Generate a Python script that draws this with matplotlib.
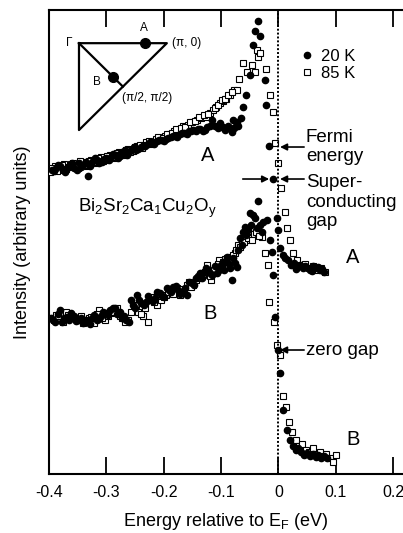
import numpy as np
import matplotlib
matplotlib.use('Agg')
import matplotlib.pyplot as plt

plt.rcParams['font.family'] = ['Liberation Sans', 'DejaVu Sans']
plt.rcParams['mathtext.fontset'] = 'custom'
plt.rcParams['mathtext.rm'] = 'Liberation Sans'
plt.rcParams['mathtext.default'] = 'regular'
plt.rcParams['axes.unicode_minus'] = False

# point A (pi,0), 20 K
a20_x = [-0.395, -0.388, -0.380, -0.372, -0.364, -0.356, -0.348, -0.340, -0.332, -0.324,
         -0.316, -0.308, -0.300, -0.292, -0.284, -0.276, -0.268, -0.260, -0.252, -0.244,
         -0.236, -0.228, -0.220, -0.212, -0.204, -0.196, -0.188, -0.180, -0.172, -0.164,
         -0.156, -0.148, -0.140, -0.132, -0.124, -0.116, -0.110, -0.102, -0.096, -0.090,
         -0.084, -0.079, -0.074, -0.070, -0.065, -0.062, -0.056, -0.050, -0.044, -0.041,
         -0.035, -0.032, -0.023, -0.021, -0.016, -0.009, -0.002, 0.000, 0.003, 0.008,
         0.012, 0.017, 0.022, 0.027, 0.033, 0.038, 0.043, 0.049, 0.055, 0.061,
         0.067, 0.073, 0.080]
a20_y = [304, 306, 308, 302, 309, 306, 311, 309, 298, 313,
         314, 312, 316, 317, 319, 318, 324, 322, 327, 325,
         328, 330, 331, 333, 334, 335, 337, 338, 340, 341,
         343, 344, 345, 343, 347, 354, 348, 351, 347, 346,
         346, 354, 348, 348, 356, 367, 379, 399, 429, 443,
         453, 438, 394, 369, 328, 295, 256, 244, 226, 219,
         216, 214, 209, 211, 207, 209, 206, 207, 204, 208,
         206, 204, 202]
a20_x_more = [-0.391, -0.384, -0.376, -0.368, -0.360, -0.352, -0.344, -0.336, -0.328, -0.320,
              -0.312, -0.304, -0.296, -0.288, -0.280, -0.272, -0.264, -0.256, -0.248, -0.240,
              -0.232, -0.224, -0.216, -0.208, -0.200, -0.192, -0.184, -0.176, -0.168, -0.160,
              -0.152, -0.144, -0.136, -0.128, -0.120, -0.106, -0.099, -0.093, -0.087, -0.081,
              -0.077, -0.072, 0.030, 0.046, 0.058, 0.070, 0.077]
a20_y_more = [303, 309, 304, 306, 311, 304, 307, 312, 308, 316,
              311, 315, 314, 320, 316, 322, 319, 325, 324, 327,
              328, 332, 330, 334, 333, 336, 338, 337, 341, 340,
              343, 343, 345, 344, 348, 346, 347, 344, 348, 342,
              346, 352, 205, 208, 203, 207, 205]

# point A, 85 K
a85_x = [-0.398, -0.390, -0.382, -0.374, -0.366, -0.358, -0.350, -0.342, -0.334, -0.326,
         -0.318, -0.310, -0.302, -0.294, -0.286, -0.278, -0.270, -0.262, -0.254, -0.246,
         -0.238, -0.230, -0.222, -0.214, -0.206, -0.198, -0.190, -0.182, -0.174, -0.166,
         -0.158, -0.150, -0.142, -0.134, -0.126, -0.119, -0.114, -0.108, -0.102, -0.096,
         -0.091, -0.084, -0.077, -0.072, -0.069, -0.062, -0.055, -0.046, -0.041, -0.037,
         -0.035, -0.032, -0.022, -0.015, -0.010, -0.006, -0.001, 0.005, 0.012, 0.015,
         0.020, 0.026, 0.033, 0.040, 0.047, 0.054, 0.061, 0.068, 0.075, 0.082]
a85_y = [302, 308, 304, 310, 307, 311, 306, 312, 308, 314,
         311, 317, 314, 319, 316, 322, 319, 325, 323, 328,
         326, 332, 330, 335, 334, 338, 340, 343, 344, 348,
         349, 352, 354, 356, 357, 361, 364, 367, 371, 373,
         375, 379, 384, 384, 395, 411, 402, 409, 402, 424,
         417, 421, 405, 379, 362, 331, 311, 286, 262, 246,
         234, 221, 214, 209, 210, 206, 208, 204, 206, 202]
a85_x_more = [-0.394, -0.386, -0.378, -0.370, -0.362, -0.354, -0.346, -0.338, -0.330, -0.322,
              -0.314, -0.306, -0.298, -0.290, -0.282, -0.274, -0.266, -0.258, -0.250, -0.242,
              -0.234, -0.226, -0.218, -0.210, -0.202, -0.194, -0.186, -0.178, -0.170, -0.162,
              -0.154, -0.146, -0.138, -0.130, -0.122, -0.111, -0.105, -0.099, -0.093, -0.087,
              -0.081]
a85_y_more = [306, 303, 309, 305, 310, 308, 313, 309, 313, 312,
              316, 313, 318, 317, 321, 320, 324, 322, 327, 329,
              329, 333, 332, 337, 336, 340, 341, 345, 346, 347,
              352, 353, 357, 359, 360, 366, 369, 374, 375, 379,
              382]

# point B (pi/2,pi/2), 20 K
b20_x = [-0.397, -0.389, -0.381, -0.373, -0.365, -0.357, -0.349, -0.341, -0.333, -0.325,
         -0.317, -0.309, -0.301, -0.293, -0.285, -0.277, -0.269, -0.261, -0.253, -0.247,
         -0.239, -0.231, -0.223, -0.215, -0.207, -0.199, -0.191, -0.183, -0.175, -0.167,
         -0.159, -0.151, -0.143, -0.137, -0.129, -0.123, -0.115, -0.107, -0.100, -0.094,
         -0.090, -0.085, -0.081, -0.076, -0.072, -0.067, -0.062, -0.058, -0.053, -0.049,
         -0.044, -0.040, -0.035, -0.032, -0.026, -0.020, -0.014, -0.011, -0.009, -0.006,
         -0.001, 0.003, 0.008, 0.015, 0.020, 0.025, 0.030, 0.035, 0.040, 0.045,
         0.050, 0.055, 0.060, 0.065, 0.070, 0.075, 0.080, 0.085]
b20_y = [156, 152, 164, 156, 154, 158, 154, 151, 152, 156,
         154, 158, 161, 164, 166, 162, 158, 152, 169, 179,
         171, 172, 174, 176, 181, 177, 184, 187, 184, 182,
         179, 191, 196, 201, 202, 204, 199, 201, 209, 204,
         217, 206, 194, 211, 207, 236, 242, 247, 244, 261,
         259, 256, 273, 249, 252, 254, 234, 222, 199, 157,
         124, 101, 64, 44, 34, 28, 24, 26, 22, 19,
         21, 18, 20, 17, 19, 16, 18, 16]
b20_x_more = [-0.393, -0.385, -0.377, -0.369, -0.361, -0.353, -0.345, -0.337, -0.329, -0.321,
              -0.313, -0.305, -0.297, -0.289, -0.281, -0.273, -0.265, -0.257, -0.250, -0.243,
              -0.235, -0.227, -0.219, -0.211, -0.203, -0.195, -0.187, -0.179, -0.171, -0.163,
              -0.155, -0.147, -0.140, -0.133, -0.126, -0.119, -0.111, -0.104, -0.097, -0.088,
              -0.079, -0.070, -0.064, -0.056, -0.047, -0.038, -0.029]
b20_y_more = [154, 160, 152, 157, 161, 153, 156, 154, 150, 159,
              155, 162, 159, 166, 160, 156, 154, 174, 166, 174,
              169, 178, 173, 182, 178, 186, 182, 188, 180, 186,
              192, 189, 198, 196, 206, 201, 208, 204, 212, 211,
              216, 224, 229, 239, 249, 246, 242]

# point B, 85 K
b85_x = [-0.396, -0.388, -0.380, -0.370, -0.362, -0.350, -0.340, -0.330, -0.322, -0.312,
         -0.302, -0.292, -0.282, -0.272, -0.262, -0.252, -0.244, -0.236, -0.228, -0.220,
         -0.212, -0.204, -0.196, -0.188, -0.180, -0.172, -0.164, -0.156, -0.148, -0.140,
         -0.132, -0.124, -0.117, -0.110, -0.103, -0.096, -0.090, -0.082, -0.076, -0.070,
         -0.064, -0.057, -0.050, -0.043, -0.036, -0.029, -0.023, -0.018, -0.016, -0.008,
         -0.002, 0.003, 0.008, 0.013, 0.018, 0.024, 0.030, 0.036, 0.042, 0.048,
         0.054, 0.060, 0.066, 0.072, 0.078, 0.084, 0.090, 0.095, 0.100]
b85_y = [156, 159, 154, 162, 156, 154, 151, 156, 151, 164,
         154, 161, 166, 156, 154, 167, 162, 158, 152, 177,
         169, 174, 179, 184, 186, 179, 184, 192, 189, 196,
         199, 209, 194, 206, 214, 212, 216, 217, 221, 229,
         232, 234, 237, 240, 241, 237, 221, 209, 172, 152,
         129, 119, 78, 67, 52, 42, 34, 28, 30, 24,
         22, 26, 20, 22, 18, 20, 16, 12, 19]
b85_x_more = [-0.392, -0.384, -0.375, -0.366, -0.356, -0.345, -0.335, -0.326, -0.317, -0.307,
              -0.297, -0.287, -0.277, -0.267, -0.257, -0.248, -0.240, -0.232, -0.224, -0.216,
              -0.208, -0.200, -0.192, -0.184, -0.176, -0.168, -0.160, -0.152, -0.144, -0.136,
              -0.128, -0.120, -0.113, -0.106, -0.099, -0.093, -0.086, -0.079, -0.073, -0.067,
              -0.060, -0.053, -0.046, -0.039, -0.033]
b85_y_more = [154, 158, 152, 159, 156, 158, 154, 157, 160, 156,
              158, 162, 158, 152, 162, 169, 160, 166, 174, 172,
              178, 177, 182, 180, 186, 185, 189, 187, 194, 196,
              202, 198, 204, 210, 208, 215, 212, 219, 224, 227,
              232, 236, 234, 242, 238]

xticks = [-0.4, -0.3, -0.2, -0.1, 0.0, 0.1, 0.2]
xtick_labels = ['-0.4', '-0.3', '-0.2', '-0.1', '0', '0.1', '0.2']

# Brillouin zone sketch (units of pi, ky pointing down)
bz_x = [0, 1, 0, 0]
bz_y = [0, 0, 1, 0]
diag_x = [0, 0.5]
diag_y = [0, 0.5]
kpt_x = [0.75, 0.39]
kpt_y = [0.0, 0.39]

fig = plt.figure(figsize=(4.03, 5.33), dpi=100)
ax = fig.add_axes([0.1216, 0.1107, 0.8784, 0.8705])

sq = dict(ms=4.3, mfc='white', mec='black', mew=0.8, ls='none', zorder=3)
ax.plot(np.r_[b85_x, b85_x_more], np.r_[b85_y, b85_y_more], 's', label='85 K', **sq)
ax.plot(np.r_[a85_x, a85_x_more], np.r_[a85_y, a85_y_more], 's', **sq)
ax.plot(np.r_[a20_x, a20_x_more], np.r_[a20_y, a20_y_more], 'o', ms=4.5, color='black',
        label='20 K', zorder=4)
ax.plot(np.r_[b20_x, b20_x_more], np.r_[b20_y, b20_y_more], 'o', ms=4.5, color='black', zorder=4)
ax.axvline(0, color='black', lw=1.4, ls=(0, (1, 1)), zorder=5)

ax.set_xlim(-0.4, 0.2175)
ax.set_ylim(0, 464)
ax.set_xticks(xticks)
ax.set_xticklabels(xtick_labels)
ax.set_yticks([])
ax.tick_params(axis='x', direction='in', length=12, width=1.3, top=True,
               labelsize=11.5, pad=8)
for s in ['left', 'bottom', 'top']:
    ax.spines[s].set_linewidth(1.5)
ax.spines['right'].set_visible(False)

ax.set_xlabel(r'Energy relative to E$_\mathrm{F}$ (eV)', fontsize=13, labelpad=8)
ax.set_ylabel('Intensity (arbitrary units)', fontsize=13, labelpad=13)

h, l = ax.get_legend_handles_labels()
ax.legend([h[1], h[0]], [l[1], l[0]], loc='upper left', bbox_to_anchor=(0.706, 0.917),
          frameon=False, fontsize=12, handlelength=1.0, handletextpad=0.3,
          labelspacing=0.15, borderpad=0, borderaxespad=0)

ax.text(-0.124, 319, 'A', fontsize=14.5, ha='center', va='center')
ax.text(0.130, 217, 'A', fontsize=14.5, ha='center', va='center')
ax.text(-0.119, 161, 'B', fontsize=14.5, ha='center', va='center')
ax.text(0.130, 34, 'B', fontsize=14.5, ha='center', va='center')
ax.text(-0.349, 266, r'Bi$_2$Sr$_2$Ca$_1$Cu$_2$O$_y$', fontsize=13.5, ha='left', va='center')

ax.text(0.048, 327, 'Fermi\nenergy', fontsize=13.5, ha='left', va='center', linespacing=1.2)
ax.text(0.048, 272, 'Super-\nconducting\ngap', fontsize=13.5, ha='left', va='center',
        linespacing=1.2)
ax.text(0.048, 124, 'zero gap', fontsize=13.5, ha='left', va='center')

arw = dict(arrowstyle='-|>', color='black', lw=1.2, mutation_scale=10, shrinkA=0, shrinkB=0)
ax.annotate('', xy=(0.003, 327), xytext=(0.045, 327), arrowprops=arw)
ax.annotate('', xy=(0.003, 295), xytext=(0.045, 295), arrowprops=arw)
ax.annotate('', xy=(-0.016, 295), xytext=(-0.062, 295), arrowprops=arw)
ax.annotate('', xy=(0.003, 124), xytext=(0.045, 124), arrowprops=arw)

# inset
ins = fig.add_axes([0.196, 0.756, 0.218, 0.163])
ins.set_xlim(0, 1)
ins.set_ylim(1, 0)
ins.axis('off')
ins.plot(bz_x, bz_y, color='black', lw=1.6, clip_on=False)
ins.plot(diag_x, diag_y, color='black', lw=1.6, clip_on=False)
ins.plot(kpt_x, kpt_y, 'o', color='black', ms=7, clip_on=False)
ins.text(-0.07, 0.0, 'Γ', fontsize=8.5, ha='right', va='center')
ins.text(0.74, -0.17, 'A', fontsize=8.5, ha='center', va='center')
ins.text(1.06, 0.0, '(π, 0)', fontsize=8.5, ha='left', va='center')
ins.text(0.2, 0.45, 'B', fontsize=8.5, ha='center', va='center')
ins.text(0.49, 0.63, '(π/2, π/2)', fontsize=8.5, ha='left', va='center')

fig.savefig('out.png', dpi=100)
